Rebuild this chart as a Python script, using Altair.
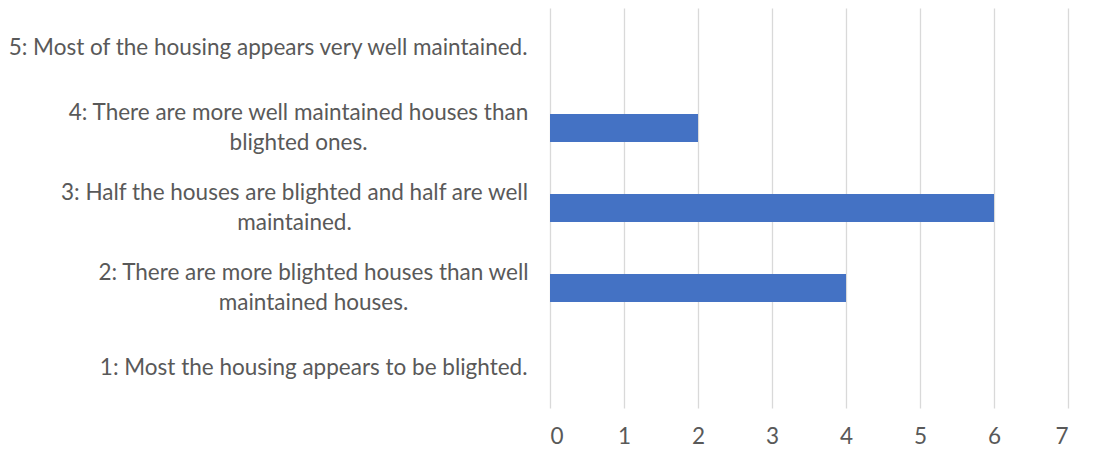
import altair as alt
import pandas as pd

# Data
categories = ["5", "4", "3", "2", "1"]
label_lines = [
    ["5: Most of the housing appears very well maintained."],
    ["4: There are more well maintained houses than", "blighted ones."],
    ["3: Half the houses are blighted and half are well", "maintained."],
    ["2: There are more blighted houses than well", "maintained houses."],
    ["1: Most the housing appears to be blighted."],
]
counts = [0, 2, 6, 4, 0]
x_ticks = [0, 1, 2, 3, 4, 5, 6, 7]

df = pd.DataFrame({"cat": categories, "count": counts})

label_expr = "split(" + "{" + ", ".join(
    f"'{k}': '{'|'.join(l)}'" for k, l in zip(categories, label_lines)
) + "}[datum.value], '|')"

FONT = "Lato"
TEXT = "#595959"
FS = 22.5
PAD = 23
# half widths of the widest line of the two-line labels (centred blocks)
half_w = {"4": 229, "3": 233, "2": 214}

multi_test = " || ".join(f"datum.value == '{k}'" for k in half_w)
label_align = {"condition": {"test": multi_test, "value": "center"}, "value": "right"}
label_pad = {"condition": [{"test": f"datum.value == '{k}'", "value": PAD + w} for k, w in half_w.items()],
             "value": PAD}
label_off = {"condition": {"test": multi_test, "value": -15}, "value": 0}

chart = alt.Chart(df).mark_bar(color="#4472C4").encode(
    y=alt.Y("cat:N", sort=categories, title=None,
            scale=alt.Scale(paddingInner=0.65, paddingOuter=0.325),
            axis=alt.Axis(labelExpr=label_expr, labelAlign=label_align, labelPadding=label_pad,
                          labelOffset=label_off,
                          labelLineHeight=30, ticks=False, domain=False,
                          labelFont=FONT, labelFontSize=FS, labelColor=TEXT,
                          labelLimit=1000, labelBaseline="middle")),
    x=alt.X("count:Q", title=None,
            scale=alt.Scale(domain=[0, 7], nice=False),
            axis=alt.Axis(values=x_ticks, ticks=False, domain=False, grid=True,
                          gridColor="#D9D9D9", gridWidth=1.3, labelPadding=17,
                          labelFont=FONT, labelFontSize=FS, labelColor=TEXT)),
).properties(
    width=518, height=400,
    autosize=alt.AutoSizeParams(type="none"),
    padding={"left": 542, "top": 0, "right": 20, "bottom": 50},
).configure_view(stroke=None)

chart.save("out.html", embed_options={"renderer": "svg", "actions": False})
